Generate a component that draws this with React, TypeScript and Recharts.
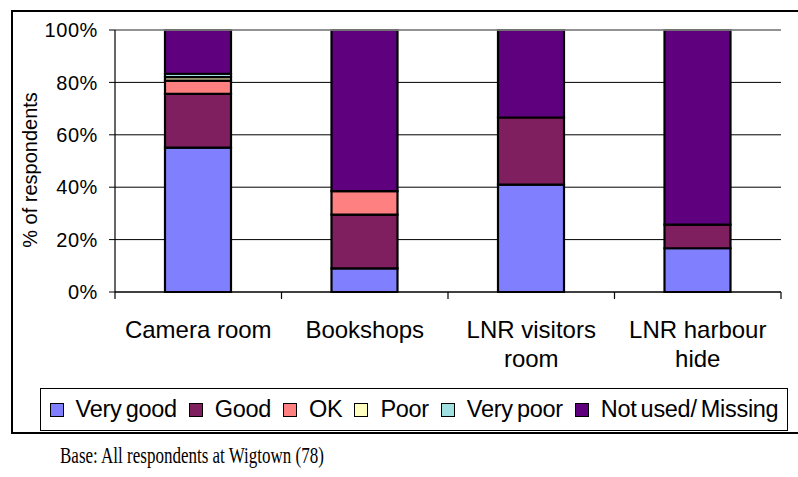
import React from "react";
import { BarChart, Bar, XAxis, YAxis, CartesianGrid, ReferenceLine } from "recharts";

const categories = ["Camera room", "Bookshops", "LNR visitors room", "LNR harbour hide"];
// how each category label wraps under the axis
const categoryLines = [["Camera room"], ["Bookshops"], ["LNR visitors", "room"], ["LNR harbour", "hide"]];

// % of respondents (base 78)
const veryGood = [55.1, 9.0, 41.0, 16.7];
const good = [20.5, 20.5, 25.6, 9.0];
const ok = [5.1, 9.0, 0, 0];
const poor = [1.3, 0, 0, 0];
const veryPoor = [1.3, 0, 0, 0];
const notUsed = [16.7, 61.5, 33.4, 74.3];

const yTicks = [0, 20, 40, 60, 80, 100];

const series = [
  { key: "veryGood", name: "Very good", values: veryGood, color: "#8080FF" },
  { key: "good", name: "Good", values: good, color: "#7F1F5F" },
  { key: "ok", name: "OK", values: ok, color: "#FF8080" },
  { key: "poor", name: "Poor", values: poor, color: "#FFFFC0" },
  { key: "veryPoor", name: "Very poor", values: veryPoor, color: "#A0E0E0" },
  { key: "notUsed", name: "Not used/ Missing", values: notUsed, color: "#5F007F" },
];

const data = categories.map((c, i) => {
  const row: any = { name: c };
  series.forEach((s) => (row[s.key] = s.values[i]));
  return row;
});

const BAND = 166.5;

function CategoryTick(props: any) {
  const { x, y, index } = props;
  const lines = categoryLines[index] || [props.payload.value];
  return (
    <g>
      <line x1={x - BAND / 2} x2={x - BAND / 2} y1={y} y2={y + 7} stroke="#000" strokeWidth={1.2} />
      {index === categories.length - 1 && (
        <line x1={x + BAND / 2} x2={x + BAND / 2} y1={y} y2={y + 7} stroke="#000" strokeWidth={1.2} />
      )}
      <text textAnchor="middle" fontSize={24} fill="#000" fontFamily="Liberation Sans, Arial, sans-serif">
        {lines.map((l: string, k: number) => (
          <tspan key={k} x={x} y={y + 46 + k * 29}>
            {l}
          </tspan>
        ))}
      </text>
    </g>
  );
}

export default function App() {
  return (
    <div
      style={{
        position: "absolute",
        left: 0,
        top: 0,
        width: 798,
        height: 477,
        background: "#fff",
        overflow: "hidden",
        fontFamily: "Liberation Sans, Arial, sans-serif",
      }}
    >
      <div
        style={{
          position: "absolute",
          left: 11,
          top: 10,
          width: 800,
          height: 420,
          borderLeft: "2px solid #000",
          borderTop: "2px solid #000",
          borderBottom: "2px solid #000",
        }}
      />
      <div style={{ position: "absolute", left: 0, top: 0 }}>
        <BarChart width={798} height={477} data={data} margin={{ top: 30, right: 17, left: 0, bottom: 0 }}>
          <CartesianGrid vertical={false} stroke="#000" strokeWidth={1} />
          <XAxis
            dataKey="name"
            height={185}
            interval={0}
            tickLine={false}
            tickSize={0}
            tickMargin={0}
            axisLine={{ stroke: "#000", strokeWidth: 1.2 }}
            tick={<CategoryTick />}
          />
          <YAxis
            width={115}
            domain={[0, 100]}
            ticks={yTicks}
            tickFormatter={(v) => `${v}%`}
            tickSize={6}
            tickMargin={11}
            tickLine={{ stroke: "#000" }}
            axisLine={{ stroke: "#000", strokeWidth: 1.2 }}
            tick={{ fill: "#000", fontSize: 20, letterSpacing: 0.6 }}
            label={{
              content: () => (
                <text
                  transform="translate(37,170) rotate(-90)"
                  textAnchor="middle"
                  fontSize={20}
                  fill="#000"
                  fontFamily="Liberation Sans, Arial, sans-serif"
                >
                  % of respondents
                </text>
              ),
            }}
          />
          <ReferenceLine y={100} stroke="#999" strokeWidth={1.5} />
          {series.map((s) => (
            <Bar
              key={s.key}
              dataKey={s.key}
              name={s.name}
              stackId="a"
              fill={s.color}
              stroke="#000"
              strokeWidth={2.2}
              barSize={66}
              isAnimationActive={false}
            />
          ))}
        </BarChart>
      </div>
      <div
        style={{
          position: "absolute",
          left: 40,
          top: 388,
          width: 746,
          height: 41,
          border: "1.5px solid #000",
          display: "flex",
          alignItems: "center",
          justifyContent: "center",
          fontSize: 23.5,
          color: "#000",
        }}
      >
        {series.map((s, i) => (
          <div key={s.key} style={{ display: "flex", alignItems: "center", marginLeft: i === 0 ? 0 : 12 }}>
            <span
              style={{
                display: "inline-block",
                width: 12,
                height: 12,
                background: s.color,
                border: "1px solid #000",
                marginRight: 12,
              }}
            />
            <span style={{ letterSpacing: -0.3, wordSpacing: -2 }}>{s.name}</span>
          </div>
        ))}
      </div>
      <div
        style={{
          position: "absolute",
          left: 60,
          top: 443,
          fontFamily: "Liberation Serif, Times New Roman, serif",
          fontSize: 17,
          color: "#000",
          transform: "scaleY(1.3)",
          transformOrigin: "left top",
          whiteSpace: "nowrap",
        }}
      >
        Base: All respondents at Wigtown (78)
      </div>
    </div>
  );
}
